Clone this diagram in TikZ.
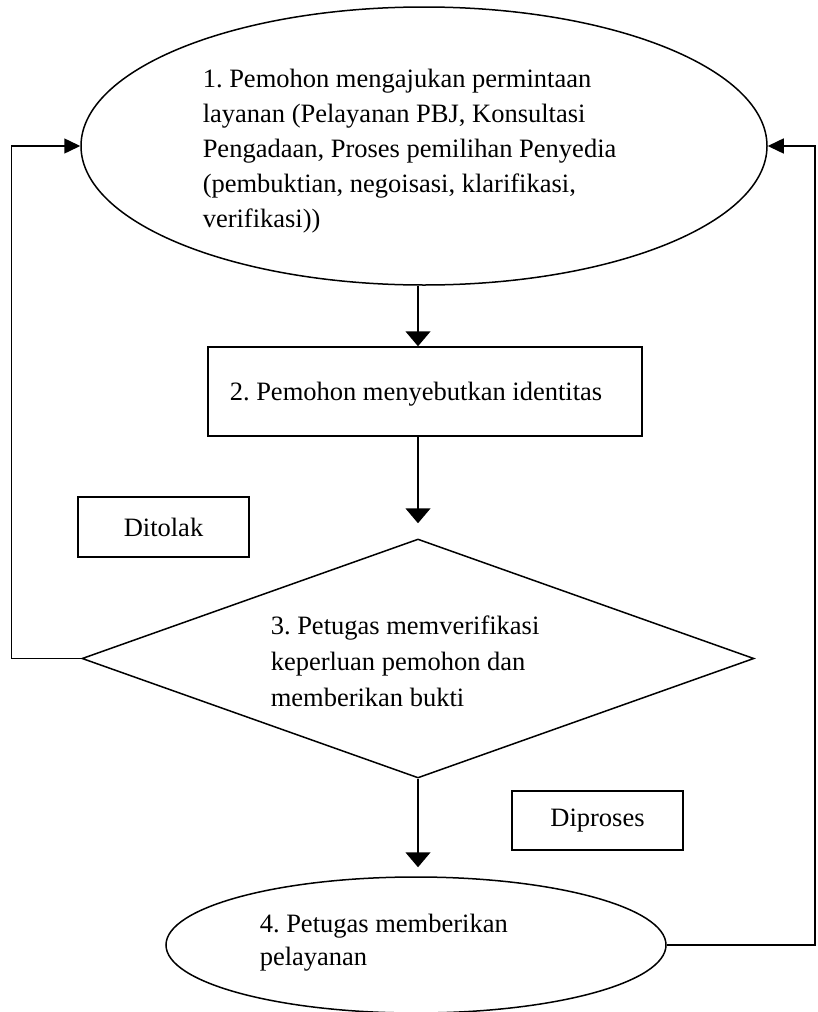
\documentclass[tikz,border=0pt]{standalone}
\usepackage{fontspec}
\setmainfont{Liberation Serif}
\usetikzlibrary{shapes.geometric,arrows.meta}
\frenchspacing

\begin{document}
\begin{tikzpicture}[x=1pt, y=-1pt, line width=1.5pt,
  font=\fontsize{26.5}{35}\selectfont,
  box/.style={draw, rectangle, inner sep=0pt},
  oval/.style={draw, ellipse, inner sep=0pt},
  txt/.style={inner sep=0pt, align=left, anchor=base west},
  down/.style={-{Triangle[length=15pt,width=25pt]}},
  side/.style={-{Triangle[length=16pt,width=15pt]}}]
\useasboundingbox (0,0) rectangle (817,1012);
% shapes
\node[oval, minimum width=686pt, minimum height=278pt] (p1) at (424,146){};
\node[box, minimum width=434pt, minimum height=89pt] (p2) at (425,391.5){};
\node[draw, diamond, inner sep=0pt, minimum width=672pt, minimum height=239pt] (p3) at (418,658.5){};
\node[oval, minimum width=500pt, minimum height=136pt] (p4) at (416,945){};
\node[box, minimum width=171pt, minimum height=60pt] (tolak) at (163.5,527){Ditolak};
\node[box, minimum width=171pt, minimum height=59pt] (proses) at (597.5,820.5){Diproses};
% texts (anchored on the last baseline)
\node[txt] (t1) at (202,227){1. Pemohon mengajukan permintaan\\layanan (Pelayanan PBJ, Konsultasi\\Pengadaan, Proses pemilihan Penyedia\\(pembuktian, negoisasi, klarifikasi,\\verifikasi))};
\node[txt] (t2) at (229,400){2. Pemohon menyebutkan identitas};
\node[txt, font=\fontsize{26.5}{36}\selectfont] (t3) at (270,706){3. Petugas memverifikasi\\keperluan pemohon dan\\memberikan bukti};
\node[txt, font=\fontsize{26.5}{33}\selectfont] (t4) at (259,965){4. Petugas memberikan\\pelayanan};
% loop ends
\coordinate (lft) at (11.5,146);
\coordinate (rgt) at (815,146);
% arrows
\draw[down] (p1.south -| p3) -- (p2.north -| p3);
\draw[down, shorten >=15pt] (p2.south -| p3) -- (p3.north);
\draw[down, shorten >=9pt] (p3.south) -- (p4.north -| p3);
\draw[side] (p3.west) -| (lft) -- (p1.west);
\draw[side] (p4.east) -| (rgt) -- (p1.east);
\end{tikzpicture}
\end{document}
